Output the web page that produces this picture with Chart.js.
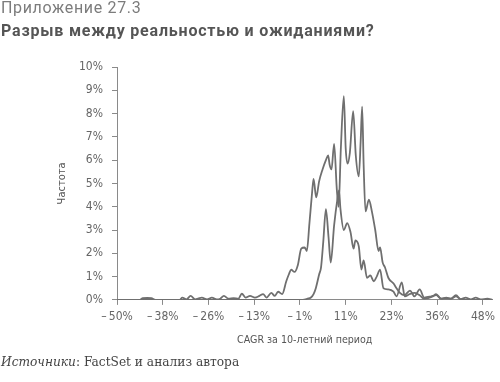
<!DOCTYPE html>
<html>
<head>
<meta charset="utf-8">
<script src="https://cdn.jsdelivr.net/npm/chart.js@4/dist/chart.umd.min.js"></script>
<style>
  html, body { margin: 0; padding: 0; background: #fff; }
  #wrap { position: relative; width: 500px; height: 382px; overflow: hidden; }
  #c { position: absolute; left: 0; top: 0; }
  .t { position: absolute; left: 1px; white-space: nowrap; }
  #t1 { top: 0px; font: 400 16px/16px Roboto, sans-serif; color: #7c7c7c; letter-spacing: 0.65px; }
  #t2 { top: 22.5px; font: 700 16px/16px Roboto, sans-serif; color: #555; letter-spacing: 0.8px; }
  #src { top: 356px; font: 400 12.2px/13px "DejaVu Serif", serif; color: #444; }
  #src i { font-style: italic; }
</style>
</head>
<body>
<div id="wrap">
  <canvas id="c" width="500" height="382"></canvas>
  <div class="t" id="t1">Приложение 27.3</div>
  <div class="t" id="t2">Разрыв между реальностью и ожиданиями?</div>
  <div class="t" id="src"><i>Источники</i>: FactSet и анализ автора</div>
</div>
<script>
// X tick positions (CAGR, %) and their labels
const xTickValues = [-50, -37.76, -25.52, -13.28, -1.04, 11.2, 23.44, 35.68, 47.92];
const xTickLabels = ['–\u200950%', '–\u200938%', '–\u200926%', '–\u200913%', '–\u20091%', '11%', '23%', '36%', '48%'];
const yTickValues = [0, 1, 2, 3, 4, 5, 6, 7, 8, 9, 10];

// Series A (wider distribution): CAGR (%) and frequency (%)
const aX = [-50.0, -46.6, -43.9, -43.1, -41.9, -40.8, -39.7, -34.7, -33.3, -32.5, -31.4, -30.3, -29.1, -28.2,
  -27.3, -25.9, -24.6, -23.3, -22.4, -21.4, -20.1, -18.8, -17.5, -16.6, -15.6, -14.4, -13.1, -11.9,
  -10.9, -10.0, -8.7, -7.8, -6.9, -5.8, -4.7, -4.0, -3.4, -2.5, -1.6, -0.7, 0.2, 0.8, 1.5, 2.2, 2.6,
  3.3, 4.1, 5.0, 5.9, 6.5, 6.9, 7.4, 8.1, 8.8, 9.3, 9.9, 10.7, 11.2, 11.7, 12.3, 13.2, 13.9, 14.7,
  15.2, 15.6, 16.0, 16.5, 17.4, 18.2, 19.1, 20.0, 20.4, 21.1, 21.7, 22.6, 24.0, 24.8, 25.7, 26.9,
  28.4, 29.6, 31.0, 32.2, 34.1, 35.4, 36.7, 38.1, 39.4, 40.7, 42.0, 43.3, 44.7, 46.0, 47.3, 49.1, 50.5];
const aY = [0, 0, 0, 0.07, 0.08, 0.07, 0, 0, 0, 0.1, 0.02, 0.17, 0.02, 0.06,
  0.1, 0.02, 0.1, 0.02, 0.05, 0.17, 0.05, 0.07, 0.05, 0.27, 0.1, 0.17, 0.1, 0.17,
  0.25, 0.1, 0.3, 0.17, 0.35, 0.25, 0.8, 1.1, 1.3, 1.2, 1.5, 2.2, 2.25, 2.1, 3.3, 4.6, 5.2,
  4.4, 5.1, 5.6, 6.0, 6.2, 5.8, 5.6, 6.7, 4.8, 4.0, 6.5, 8.75, 6.5, 5.85, 6.3, 8.1, 6.2, 5.3,
  6.8, 8.3, 5.8, 3.8, 4.3, 3.8, 3.0, 2.1, 2.25, 1.6, 1.4, 0.95, 0.7, 0.5, 0.3, 0.2,
  0.4, 0.15, 0.45, 0.1, 0.15, 0.2, 0.05, 0.1, 0.05, 0.2, 0.03, 0.1, 0.02, 0.1, 0.02, 0.05, 0];

// Series B (narrower distribution)
const bX = [-50.0, -0.3, 1.0, 1.9, 2.6, 3.2, 4.1, 4.6, 5.2, 5.9, 6.6, 7.2, 8.1, 9.0, 9.4, 9.8, 10.7,
  11.6, 12.5, 13.3, 13.8, 14.7, 15.4, 16.0, 16.9, 17.8, 18.7, 19.5, 20.4, 21.3, 22.6, 24.0, 24.8,
  26.2, 27.0, 28.3, 29.7, 31.0, 32.2, 34.5, 35.4, 36.7, 39.4, 40.7, 42.0, 44.7, 50.5];
const bY = [0, 0, 0.05, 0.1, 0.25, 0.5, 1.1, 1.4, 2.5, 3.9, 2.7, 1.6, 3.2, 4.35, 4.7, 3.9, 3.0,
  3.3, 2.9, 2.2, 2.55, 2.3, 1.3, 1.7, 0.95, 1.05, 0.8, 1.0, 1.3, 0.5, 0.45, 0.35, 0.15,
  0.75, 0.15, 0.25, 0.3, 0.2, 0.05, 0.15, 0.25, 0.05, 0.05, 0.15, 0.02, 0, 0];

const toPts = (xs, ys) => xs.map((x, i) => ({ x: x, y: ys[i] }));
const lineColor = '#6f6f6f';
const axisColor = '#8a8a8a';
const tickFont = { family: '"Liberation Sans Narrow", "DejaVu Sans Condensed", sans-serif', size: 12 };

new Chart(document.getElementById('c'), {
  type: 'line',
  data: {
    datasets: [
      { data: toPts(aX, aY), borderColor: lineColor, borderWidth: 1.8, pointRadius: 0, fill: false, cubicInterpolationMode: 'monotone' },
      { data: toPts(bX, bY), borderColor: lineColor, borderWidth: 1.8, pointRadius: 0, fill: false, cubicInterpolationMode: 'monotone' }
    ]
  },
  options: {
    responsive: false,
    animation: false,
    layout: { padding: { left: 50, top: 67, right: 3, bottom: 31 } },
    plugins: { legend: { display: false }, tooltip: { enabled: false } },
    scales: {
      x: {
        type: 'linear',
        min: -50,
        max: 50.47,
        afterBuildTicks: s => { s.ticks = xTickValues.map(v => ({ value: v })); },
        ticks: {
          autoSkip: false, maxRotation: 0, padding: 5, color: '#666', font: tickFont,
          callback: (v, i) => xTickLabels[i]
        },
        grid: { drawOnChartArea: false, drawTicks: true, tickLength: 5, color: axisColor },
        border: { display: true, color: axisColor, width: 1 },
        title: {
          display: true, text: 'CAGR за 10-летний период', color: '#555',
          font: { family: '"DejaVu Sans Condensed", "Liberation Sans Narrow", sans-serif', size: 10.6 },
          padding: { top: 5, bottom: 4 }
        }
      },
      y: {
        min: 0,
        max: 10,
        afterFit: s => { s.width = 67; },
        afterBuildTicks: s => { s.ticks = yTickValues.map(v => ({ value: v })); },
        ticks: { padding: 9, color: '#666', font: tickFont, callback: v => v + '%' },
        grid: { drawOnChartArea: false, drawTicks: true, tickLength: 5, color: axisColor },
        border: { display: true, color: axisColor, width: 1 },
        title: {
          display: true, text: 'Частота', color: '#555',
          font: { family: '"DejaVu Sans Condensed", "Liberation Sans Narrow", sans-serif', size: 11 },
          padding: { top: 6, bottom: 0 }
        }
      }
    }
  }
});
</script>
</body>
</html>
